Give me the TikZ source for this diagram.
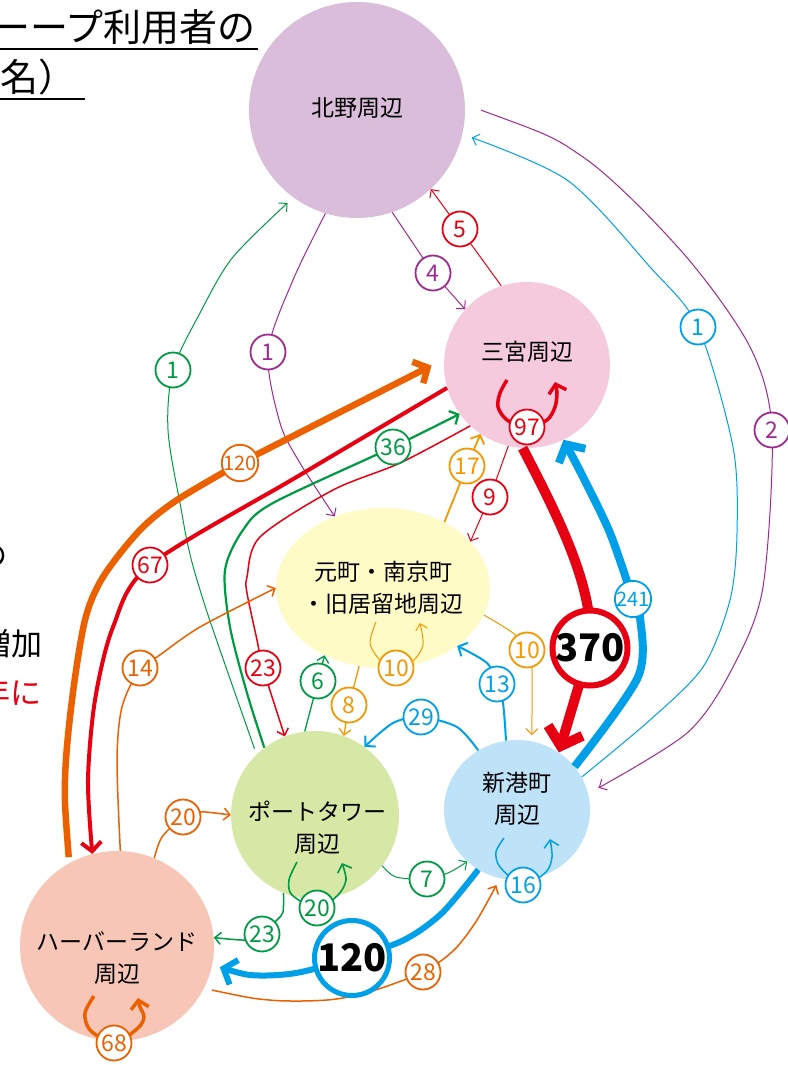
\documentclass[tikz,border=0pt]{standalone}
\usepackage{fontspec}
\setmainfont{Noto Sans CJK JP}
\usetikzlibrary{arrows.meta,shapes.geometric}
\definecolor{cred}{HTML}{E60012}
\definecolor{corg}{HTML}{EB6100}
\definecolor{cyel}{HTML}{F39800}
\definecolor{cgrn}{HTML}{009944}
\definecolor{cblu}{HTML}{00A0E9}
\definecolor{cpur}{HTML}{9E2A8F}
\definecolor{fkit}{HTML}{D9BDDA}
\definecolor{fsan}{HTML}{F5CADD}
\definecolor{fmot}{HTML}{FFFBC7}
\definecolor{fpor}{HTML}{D7E7A6}
\definecolor{fshi}{HTML}{BEE2F7}
\definecolor{fhar}{HTML}{F8C6B6}
\pgfdeclarelayer{fg}
\pgfsetlayers{main,fg}
\begin{document}
\begin{tikzpicture}[x=1pt,y=-1pt,
  area/.style={inner sep=0, draw=none},
  areatext/.style={align=center, text=black, font=\fontsize{23}{32}\selectfont},
  lbl/.style={circle, draw=#1, text=#1, fill=white, line width=1.8pt, minimum size=35pt, inner sep=0, font=\fontsize{23}{23}\selectfont},
  lblS/.style={lbl=#1, font=\fontsize{20}{20}\selectfont},
  big/.style={circle, draw=#1, fill=white, inner sep=0, text=black, minimum size=70pt, font=\bfseries\fontsize{38}{38}\selectfont},
  lwA/.style={line width=1pt},
  lwB/.style={line width=1.5pt},
  arrA/.style={-{Straight Barb[length=6pt,width=12pt]}},
  arrB/.style={-{Straight Barb[length=7pt,width=15pt]}},
  arrC/.style={-{Straight Barb[length=8pt,width=18pt]}},
  ttl/.style={text=black, font=\fontsize{38}{38}\selectfont, inner sep=0}
]
\useasboundingbox (0,0) rectangle (787,1065);
\clip (0,0) rectangle (787,1065);
\fill[white] (0,0) rectangle (787,1065);

% title fragments
\node[ttl, anchor=base east] (t1) at (256,42) {ーープ利用者の};
\draw[line width=1.6pt] (0,49) -- (258,49);
\node[ttl, anchor=base west] (t2) at (0,92) {名）};
\draw[line width=1.6pt] (0,99) -- (85,99);
\node[ttl, anchor=base east, font=\fontsize{30}{30}\selectfont] (t3) at (8,566) {の};
\node[ttl, anchor=base east, font=\fontsize{31}{31}\selectfont] (t4) at (43,655) {増加};
\node[ttl, anchor=base east, text=cred, font=\fontsize{31}{31}\selectfont] (t5) at (42,704) {年に};

% areas
\node[area, circle, fill=fkit, minimum size=216pt] (kitano) at (357,110) {};
\node[area, circle, fill=fsan, minimum size=166pt] (sann) at (527,365) {};
\node[area, ellipse, fill=fmot, minimum width=214pt, minimum height=160pt] (moto) at (383,588) {};
\node[area, circle, fill=fpor, minimum size=168pt] (port) at (315,815) {};
\node[area, ellipse, fill=fshi, minimum width=146pt, minimum height=140pt] (shinko) at (517,810) {};
\node[area, ellipse, fill=fhar, minimum width=194pt, minimum height=190pt] (harbor) at (117,946) {};

% self-loop ends
\coordinate (s97s) at ([shift={(-20,15)}]sann.center);
\coordinate (s97e) at ([shift={(28,17)}]sann.center);
\coordinate (m10s) at ([shift={(-7,34)}]moto.center);
\coordinate (m10e) at ([shift={(37,35)}]moto.center);
\coordinate (p20s) at ([shift={(-18,47)}]port.center);
\coordinate (p20e) at ([shift={(27,48)}]port.center);
\coordinate (n16s) at ([shift={(-13,28)}]shinko.center);
\coordinate (n16e) at ([shift={(33,29)}]shinko.center);
\coordinate (h68s) at ([shift={(-23,50)}]harbor.center);
\coordinate (h68e) at ([shift={(21,52)}]harbor.center);

\begin{pgfonlayer}{fg}
\node[areatext] (kitanoT) at (357,108) {北野周辺};
\node[areatext] (sannT) at (527,352) {三宮周辺};
\node[areatext] (motoT) at (383,588) {元町・南京町\\・旧居留地周辺};
\node[areatext] (portT) at (317,828) {ポートタワー\\周辺};
\node[areatext] (shinkoT) at (517,799) {新港町\\周辺};
\node[areatext] (harborT) at (117,958) {ハーバーランド\\周辺};

\node[lbl=cpur] (l4) at (433,273) {4};
\node[lbl=cred] (l5) at (460,229) {5};
\node[lbl=cpur] (l1p) at (268,352) {1};
\node[lbl=cpur] (l2) at (772,430) {2};
\node[lbl=cblu] (l1b) at (698,327) {1};
\node[lbl=cgrn] (l1g) at (173,370) {1};
\node[lbl=cred] (l9) at (490,497) {9};
\node[lbl=cyel] (l17) at (467,466) {17};
\node[big=cred, line width=6pt] (l370) at (590,648) {370};
\node[lblS=cblu] (l241) at (633,599) {241};
\node[lbl=cred] (l97) at (527,427) {97};
\node[lbl=cred] (l67) at (150,565) {67};
\node[lblS=corg] (l120o) at (240,463) {120};
\node[lbl=cgrn] (l36) at (393,447) {36};
\node[lbl=cred] (l23r) at (263,668) {23};
\node[lbl=corg] (l14) at (140,668) {14};
\node[lbl=cgrn] (l6) at (318,681) {6};
\node[lbl=cyel] (l8) at (349,705) {8};
\node[lbl=cyel] (l10a) at (396,668) {10};
\node[lbl=cyel] (l10b) at (527,650) {10};
\node[lbl=cblu] (l29) at (421,717) {29};
\node[lbl=cblu] (l13) at (497,684) {13};
\node[lbl=cgrn] (l20g) at (317,908) {20};
\node[lbl=cgrn] (l7) at (427,879) {7};
\node[lbl=cgrn] (l23g) at (262,934) {23};
\node[lbl=corg] (l20o) at (183,817) {20};
\node[lbl=cblu] (l16) at (523,885) {16};
\node[big=cblu, line width=5pt] (l120b) at (352,958) {120};
\node[lbl=corg] (l28) at (423,972) {28};
\node[lbl=corg] (l68) at (114,1043) {68};
\end{pgfonlayer}

% from/to Kitano
\draw[cpur,lwA,arrA] (kitano.-71) -- (l4.center) -- (sann.138);
\draw[cred,lwA,arrA] (sann.108) -- (l5.center) -- (kitano.-47);
\draw[cpur,lwA,arrA] plot[smooth] coordinates {(kitano.-107) (293,280) (l1p.center) (280,423) (300,463) (moto.124)};
\draw[cpur,lwA,arrA,shorten <=17pt,shorten >=12pt] plot[smooth] coordinates {(kitano.3) (583,157) (683,253) (750,347) (l2.center) (763,587) (733,667) (687,733) (shinko.13)};
\draw[cblu,lwA,arrA,shorten >=10pt] plot[smooth] coordinates {(shinko.27) (650,720) (703,667) (730,600) (737,533) (733,447) (l1b.center) (650,267) (567,180) (kitano.-13)};
\draw[cgrn,lwA,arrA,shorten <=6pt,shorten >=8pt] plot[smooth] coordinates {(port.134) (197,580) (180,503) (168,430) (l1g.center) (200,313) (233,257) (kitano.-126)};

% Sannomiya
\draw[cred,lwA,arrA] (sann.-103) -- (l9.center) -- (moto.28);
\draw[cyel,line width=1.8pt,arrB] (moto.47) -- (l17.center) -- (sann.-124);
\draw[cred,line width=10pt,-{Straight Barb[length=16pt,width=36pt]}] (sann.-93) .. controls (560,520) and (595,590) .. (l370.center) -- (shinko.54);
\draw[cblu,line width=8pt,-{Straight Barb[length=13pt,width=30pt]}] plot[smooth] coordinates {(shinko.37) (638,677) (640,617) (l241.center) (610,533) (583,477) (sann.-64)};
\draw[cred,line width=4pt,-{Straight Barb[length=9pt,width=20pt]}] plot[smooth] coordinates {(sann.196) (300,475) (l67.center) (113,627) (95,700) (88,780) (harbor.105)};
\draw[corg,line width=6.5pt,-{Straight Barb[length=11pt,width=24pt]},shorten <=6pt,shorten >=14pt] plot[smooth] coordinates {(harbor.120) (65,780) (72,700) (85,620) (103,577) (140,530) (177,500) (l120o.center)} -- (sann.176);
\draw[cgrn,line width=2.2pt,arrB] plot[smooth] coordinates {(port.127) (247,693) (230,627) (225,570) (243,530) (273,503) (l36.center) (sann.-144)};
\draw[cred,lwB,arrA] plot[smooth] coordinates {(sann.-133) (400,463) (333,490) (260,537) (247,577) (247,593) (257,640) (l23r.center) (port.111)};
\draw[cred,line width=3.5pt,arrC] plot[smooth] coordinates {(s97s) (500,393) (498,407) (507,420) (l97.center) (547,420) (555,407) (557,393) (s97e)};

% Motomachi
\draw[corg,lwB,arrA] plot[smooth] coordinates {(harbor.88) (117,760) (122,707) (l14.center) (157,657) (200,627) (moto.180)};
\draw[cgrn,line width=1.3pt,arrA] (port.97) -- (l6.center) -- (moto.-131);
\draw[cyel,line width=1.3pt,arrA] (moto.-107) -- (l8.center) -- (port.70);
\draw[cyel,lwA,arrA] plot[smooth] coordinates {(m10s) (370,643) (380,660) (l10a.center) (413,661) (423,645) (m10e)};
\draw[cyel,lwA,arrA,shorten >=6pt] plot[smooth] coordinates {(moto.-15) (513,633) (l10b.center) (532,667) (shinko.78)};

% Port tower
\draw[cblu,line width=2pt,arrB] plot[smooth] coordinates {(shinko.123) (457,727) (l29.center) (393,723) (port.54)};
\draw[cblu,line width=2pt,arrB] plot[smooth] coordinates {(shinko.99) (503,703) (l13.center) (487,663) (moto.-38)};
\draw[cgrn,lwA,arrA] plot[smooth] coordinates {(port.-37) (396,877) (l7.center) (450,872) (shinko.-134)};
\draw[cgrn,line width=1.6pt,arrB] plot[smooth] coordinates {(p20s) (289,880) (292,895) (l20g.center) (338,895) (346,880) (p20e)};
\draw[cgrn,lwB,arrA] plot[smooth] coordinates {(port.-112) (283,912) (277,920) (l23g.center) (246,940) (harbor.5)};
\draw[corg,lwB,arrA] plot[smooth] coordinates {(harbor.67) (162,837) (l20o.center) (200,812) (215,813) (port.180)};

% Shinko
\draw[cblu,lwB,arrB] plot[smooth] coordinates {(n16s) (496,852) (500,867) (l16.center) (546,872) (552,857) (n16e)};
\draw[corg,lwB,arrA,shorten <=8pt,shorten >=8pt] plot[smooth] coordinates {(harbor.-26) (269,1000) (327,1000) (369,992) (l28.center) (454,950) (477,920) (shinko.-104)};
\draw[cblu,line width=6pt,-{Straight Barb[length=11pt,width=26pt]},shorten >=8pt] plot[smooth] coordinates {(shinko.-123) (442,913) (404,940) (l120b.center) (296,973) (250,975) (harbor.-11)};

% Harbor self
\draw[corg,line width=3.5pt,arrC] plot[smooth] coordinates {(h68s) (85,1013) (90,1030) (l68.center) (138,1028) (144,1017) (140,1007) (h68e)};
\end{tikzpicture}
\end{document}
